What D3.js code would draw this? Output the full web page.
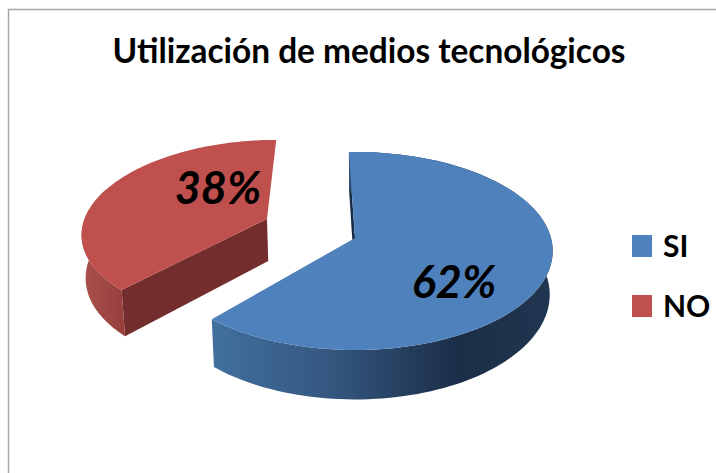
<!DOCTYPE html>
<html>
<head>
<meta charset="utf-8">
<script src="https://cdn.jsdelivr.net/npm/d3@7"></script>
<style>
  html, body { margin: 0; padding: 0; background: #fff; }
  svg { display: block; }
  text { font-family: Lato, "Open Sans", sans-serif; font-weight: 700; fill: #000; }
</style>
</head>
<body>
<div id="container"></div>
<script>
const title = "Utilización de medios tecnológicos";
const categories = ["SI", "NO"];
const values = [62, 38];
const percentLabels = ["62%", "38%"];

const width = 716,
  height = 473;

//3D look of the pie
const originX = 355,
  originY = 238,
  radiusX = 196,
  radiusY = 97.3,
  tilt = 0.131, //perspective strength
  depth = 43,
  bottomShrink = 0.985,
  explode = [0, 0.47], //only NO is pulled out
  sliceScale = [1, 0.95],
  sliceTurn = [0, (2 * Math.PI) / 180],
  sliceShiftX = [0, -3],
  sliceShiftY = [0, -4],
  sideSteps = [121, 60]; //how much of the rim has a visible side

const colors = {
  SI: { top: "#4f81bd", wall: "#1b2e48" },
  NO: { top: "#c0504d", wall: "#722d2c" },
};

const svg = d3
  .select("#container")
  .append("svg")
  .attr("width", width)
  .attr("height", height);

//Gradients for the outer side of the slices
const defs = svg.append("defs");
const addGradient = (id, x1, x2, stops) => {
  const g = defs
    .append("linearGradient")
    .attr("id", id)
    .attr("gradientUnits", "userSpaceOnUse")
    .attr("x1", x1)
    .attr("x2", x2)
    .attr("y1", 0)
    .attr("y2", 0);
  stops.forEach((s) =>
    g.append("stop").attr("offset", s[0]).attr("stop-color", s[1])
  );
};
addGradient("sideSI", 212, 553, [
  [0, "#41709f"],
  [0.35, "#34567f"],
  [0.72, "#1b2e48"],
  [1, "#213650"],
]);
addGradient("sideNO", 85, 125, [
  [0, "#a84f4b"],
  [1, "#963f3d"],
]);

//Chart frame, only top and left show in the picture
svg
  .append("path")
  .attr("d", `M8.5,${height}V9.5H${width}`)
  .attr("fill", "none")
  .attr("stroke", "#a6a6a6")
  .attr("stroke-width", 1.5);

svg
  .append("text")
  .attr("x", 369)
  .attr("y", 63)
  .attr("text-anchor", "middle")
  .attr("font-size", 35)
  .attr("textLength", 513)
  .attr("lengthAdjust", "spacingAndGlyphs")
  .text(title);

const pie = d3
  .pie()
  .sort(null)
  .startAngle((-2 * Math.PI) / 180)
  .endAngle(((360 - 2) * Math.PI) / 180);
const slices = pie(values);

//Projects a point of the pie plane on the screen
const project = (slice, i, angle, r, isBottom) => {
  const mid = (slice.startAngle + slice.endAngle) / 2;
  const a = angle + sliceTurn[i];
  const u = r * sliceScale[i] * Math.sin(a) + explode[i] * Math.sin(mid);
  const v = r * sliceScale[i] * Math.cos(a) + explode[i] * Math.cos(mid);
  const w = 1 + tilt * v;
  const shrink = isBottom ? bottomShrink : 1;
  return [
    originX + sliceShiftX[i] + (radiusX * shrink * u) / w,
    originY + sliceShiftY[i] - (radiusY * v) / w + (isBottom ? depth / w : 0),
  ];
};

const line = d3.line();
const arcPoints = (slice, i, isBottom) =>
  d3
    .range(0, 121)
    .map((k) =>
      project(
        slice,
        i,
        slice.startAngle + ((slice.endAngle - slice.startAngle) * k) / 120,
        1,
        isBottom
      )
    );

const drawSlice = (slice, i) => {
  const name = categories[i];
  const top = arcPoints(slice, i, false);
  const bottom = arcPoints(slice, i, true);
  const apexTop = project(slice, i, 0, 0, false);
  const apexBottom = project(slice, i, 0, 0, true);
  const g = svg.append("g").attr("class", "slice-" + name);
  const side = top
    .slice(0, sideSteps[i])
    .concat(bottom.slice(0, sideSteps[i]).reverse());

  //the straight wall at the start of the slice is the one facing the viewer
  g.append("path")
    .attr("d", line([apexTop, top[0], bottom[0], apexBottom]) + "Z")
    .attr("fill", colors[name].wall);
  g.append("path")
    .attr("d", line(side) + "Z")
    .attr("fill", `url(#side${name})`);
  g.append("path")
    .attr("d", line([apexTop].concat(top)) + "Z")
    .attr("fill", colors[name].top);
};

//NO sits behind SI
drawSlice(slices[1], 1);
drawSlice(slices[0], 0);

//Percent labels
const labelPos = [
  [454, 298],
  [218, 204],
];
svg
  .selectAll(".percent")
  .data(percentLabels)
  .enter()
  .append("text")
  .attr("class", "percent")
  .attr("x", (d, i) => labelPos[i][0])
  .attr("y", (d, i) => labelPos[i][1])
  .attr("text-anchor", "middle")
  .attr("font-size", 45)
  .attr("font-style", "italic")
  .text((d) => d);

//Legend
const legendY = d3.scalePoint().domain(categories).range([246, 306]);
const legend = svg
  .selectAll(".legend")
  .data(categories)
  .enter()
  .append("g")
  .attr("class", "legend")
  .attr("transform", (d) => `translate(632, ${legendY(d)})`);
legend
  .append("rect")
  .attr("x", 0)
  .attr("y", -11)
  .attr("width", 20)
  .attr("height", 22)
  .attr("fill", (d) => colors[d].top);
legend
  .append("text")
  .attr("x", 31)
  .attr("y", 11)
  .attr("font-size", 30)
  .text((d) => d);
</script>
</body>
</html>
